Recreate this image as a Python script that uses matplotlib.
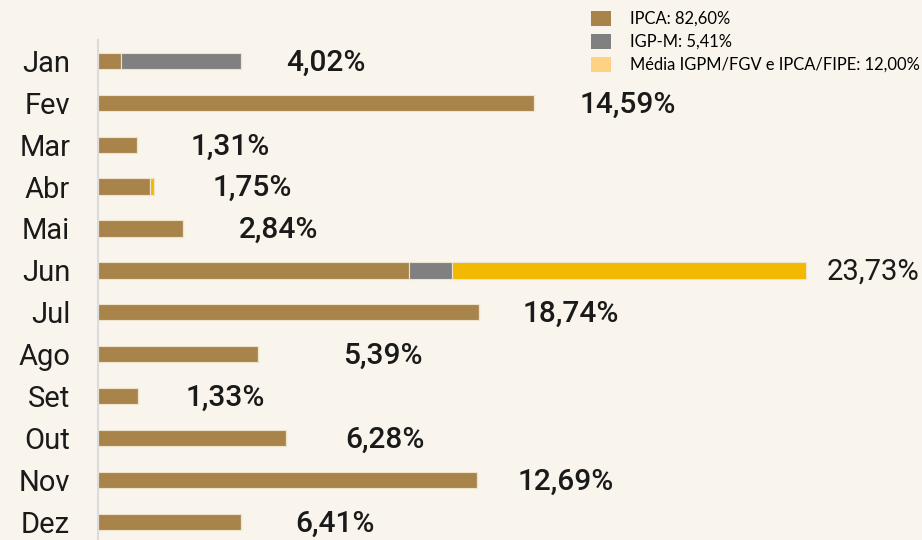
import matplotlib
matplotlib.use("Agg")
import matplotlib.pyplot as plt
from matplotlib.patches import Patch
import numpy as np

months = ["Jan", "Fev", "Mar", "Abr", "Mai", "Jun", "Jul", "Ago", "Set", "Out", "Nov", "Dez"]
ipca = [0.77, 14.59, 1.31, 1.74, 2.84, 10.43, 12.76, 5.37, 1.34, 6.29, 12.70, 4.79]
igpm = [4.02, 0, 0, 0, 0, 1.42, 0, 0, 0, 0, 0, 0]
media = [0, 0, 0, 0.12, 0, 11.87, 0, 0, 0, 0, 0, 0]
labels = ["4,02%", "14,59%", "1,31%", "1,75%", "2,84%", "23,73%", "18,74%",
          "5,39%", "1,33%", "6,28%", "12,69%", "6,41%"]
label_x = [7.64, 17.76, 4.42, 5.16, 6.06, 24.39, 15.85, 9.55, 4.25, 9.62, 15.68, 7.94]
legend_labels = ["IPCA: 82,60%", "IGP-M: 5,41%", "Média IGPM/FGV e IPCA/FIPE: 12,00%"]

BG = "#f9f4ec"
C_IPCA = "#a8844a"
C_IGPM = "#808080"
C_MEDIA = "#f3b800"
C_MEDIA_LEG = "#fdd283"

fig = plt.figure(figsize=(9.22, 5.40), dpi=100, facecolor=BG)
ax = fig.add_axes([98 / 922, -0.005, 1 - 98 / 922, 0.931])
ax.set_facecolor(BG)

y = np.arange(len(months))
ipca_a = np.array(ipca)
igpm_a = np.array(igpm)
media_a = np.array(media)
h = 0.39
ek = dict(edgecolor="#eee3cc", linewidth=0.8)
ax.barh(y, ipca_a, height=h, color=C_IPCA, **ek)
ax.barh(y, igpm_a, left=ipca_a, height=h, color=C_IGPM, **ek)
ax.barh(y, media_a, left=ipca_a + igpm_a, height=h, color=C_MEDIA, **ek)

for i, (lx, lab) in enumerate(zip(label_x, labels)):
    if months[i] == "Jun":
        ax.text(lx, i + 0.04, lab, ha="left", va="center", fontsize=21,
                family="Roboto", fontweight="normal", color="#1a1a1a")
    else:
        ax.text(lx, i + 0.04, lab, ha="center", va="center", fontsize=21.5,
                family="Roboto", fontweight="medium", color="#1a1a1a")

ax.set_ylim(len(months) - 0.5, -0.5)
ax.set_xlim(0, 27.6)
ax.set_yticks(y)
ax.set_yticklabels(months, family="Roboto", fontsize=21, color="#1a1a1a")
ax.tick_params(axis="y", length=0, pad=20)
ax.set_xticks([])
for s in ["top", "right", "bottom"]:
    ax.spines[s].set_visible(False)
ax.spines["left"].set_color("#dcdcdc")
ax.spines["left"].set_linewidth(1.5)

handles = [Patch(facecolor=C_IPCA, edgecolor="none"),
           Patch(facecolor=C_IGPM, edgecolor="none"),
           Patch(facecolor=C_MEDIA_LEG, edgecolor="none")]
fig.legend(handles, legend_labels, loc="upper left", bbox_to_anchor=(580 / 922, 1.0),
           frameon=False, prop={"family": "Lato", "size": 11.9},
           handlelength=1.25, handleheight=1.0, handletextpad=1.15,
           labelspacing=0.42, borderaxespad=0.3, borderpad=0.35)

fig.savefig("out.png", dpi=100, facecolor=BG)
